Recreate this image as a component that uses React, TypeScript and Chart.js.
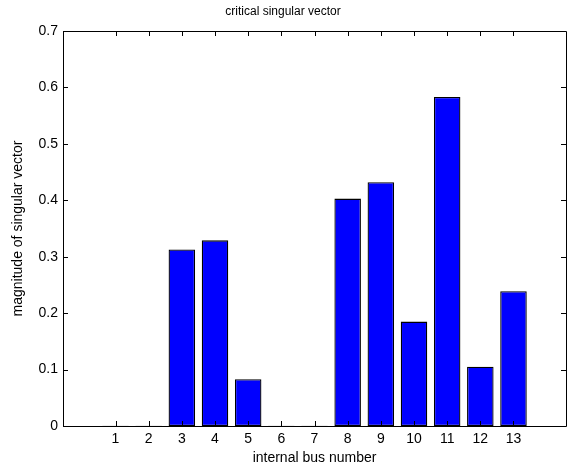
import React, { useEffect, useRef } from "react";
import { Chart, registerables } from "chart.js";

Chart.register(...registerables);

const categories = [1, 2, 3, 4, 5, 6, 7, 8, 9, 10, 11, 12, 13];
const magnitudes = [0.0005, 0.0005, 0.313, 0.329, 0.083, 0.0005, 0.0005, 0.403, 0.432, 0.185, 0.583, 0.105, 0.239];
const xTicks = [1, 2, 3, 4, 5, 6, 7, 8, 9, 10, 11, 12, 13];
const yTicks = [0, 0.1, 0.2, 0.3, 0.4, 0.5, 0.6, 0.7];

const FONT = "'Liberation Sans', Arial, Helvetica, sans-serif";

const framePlugin = {
  id: "matlabFrame",
  afterDatasetsDraw(chart: any) {
    const { ctx, chartArea } = chart;
    const { left, right, top, bottom } = chartArea;
    const xs = chart.scales.x;
    const ys = chart.scales.y;
    const tl = 5;
    ctx.save();
    ctx.strokeStyle = "#000";
    ctx.lineWidth = 1;
    ctx.beginPath();
    ctx.rect(Math.round(left) + 0.5, Math.round(top) + 0.5, Math.round(right - left), Math.round(bottom - top));
    for (const v of xTicks) {
      const px = Math.round(xs.getPixelForValue(v)) + 0.5;
      ctx.moveTo(px, bottom);
      ctx.lineTo(px, bottom - tl);
      ctx.moveTo(px, top);
      ctx.lineTo(px, top + tl);
    }
    for (const v of yTicks) {
      const py = Math.round(ys.getPixelForValue(v)) + 0.5;
      ctx.moveTo(left, py);
      ctx.lineTo(left + tl, py);
      ctx.moveTo(right, py);
      ctx.lineTo(right - tl, py);
    }
    ctx.stroke();
    ctx.restore();
  },
};

export default function App() {
  const ref = useRef<HTMLCanvasElement>(null);
  useEffect(() => {
    if (!ref.current) return;
    const chart = new Chart(ref.current, {
      type: "bar",
      data: {
        datasets: [
          {
            data: categories.map((c, i) => ({ x: c, y: magnitudes[i] })),
            backgroundColor: "#0000ff",
            borderColor: "#000000",
            borderWidth: 1.3,
            borderSkipped: false,
            barPercentage: 0.8,
            categoryPercentage: 1,
          },
        ],
      },
      options: {
        responsive: false,
        animation: false,
        layout: { padding: { left: 0, right: 7, top: 0, bottom: 0 } },
        plugins: {
          legend: { display: false },
          tooltip: { enabled: false },
          title: {
            display: true,
            text: "critical singular vector",
            color: "#000",
            font: { family: FONT, size: 12, weight: "normal" },
            padding: { top: 4, bottom: 12.6 },
          },
        },
        scales: {
          x: {
            type: "linear",
            min: 0,
            max: 14,
            grid: { display: false, drawTicks: false },
            border: { display: false },
            afterBuildTicks: (scale: any) => {
              scale.ticks = xTicks.map((v) => ({ value: v }));
            },
            afterFit: (scale: any) => {
              scale.height = 44;
            },
            ticks: {
              color: "#000",
              font: { family: FONT, size: 14 },
              padding: 5,
              maxRotation: 0,
              autoSkip: false,
              callback: (v: any) => String(v),
            },
            title: {
              display: true,
              text: "internal bus number",
              color: "#000",
              font: { family: FONT, size: 14 },
              padding: { top: 0, bottom: 3 },
            },
          },
          y: {
            type: "linear",
            min: 0,
            max: 0.7,
            grid: { display: false, drawTicks: false },
            border: { display: false },
            afterBuildTicks: (scale: any) => {
              scale.ticks = yTicks.map((v) => ({ value: v }));
            },
            afterFit: (scale: any) => {
              scale.width = 63;
            },
            ticks: {
              color: "#000",
              font: { family: FONT, size: 14 },
              padding: 5,
              autoSkip: false,
              callback: (v: any) => String(Number(Number(v).toFixed(1))),
            },
            title: {
              display: true,
              text: "magnitude of singular vector",
              color: "#000",
              font: { family: FONT, size: 14 },
              padding: { top: 10, bottom: 0 },
            },
          },
        },
      },
      plugins: [framePlugin],
    });
    return () => chart.destroy();
  }, []);
  return (
    <div style={{ position: "absolute", left: 0, top: 0, width: 573, height: 470, background: "#fff" }}>
      <canvas ref={ref} width={573} height={470} style={{ display: "block" }} />
    </div>
  );
}
